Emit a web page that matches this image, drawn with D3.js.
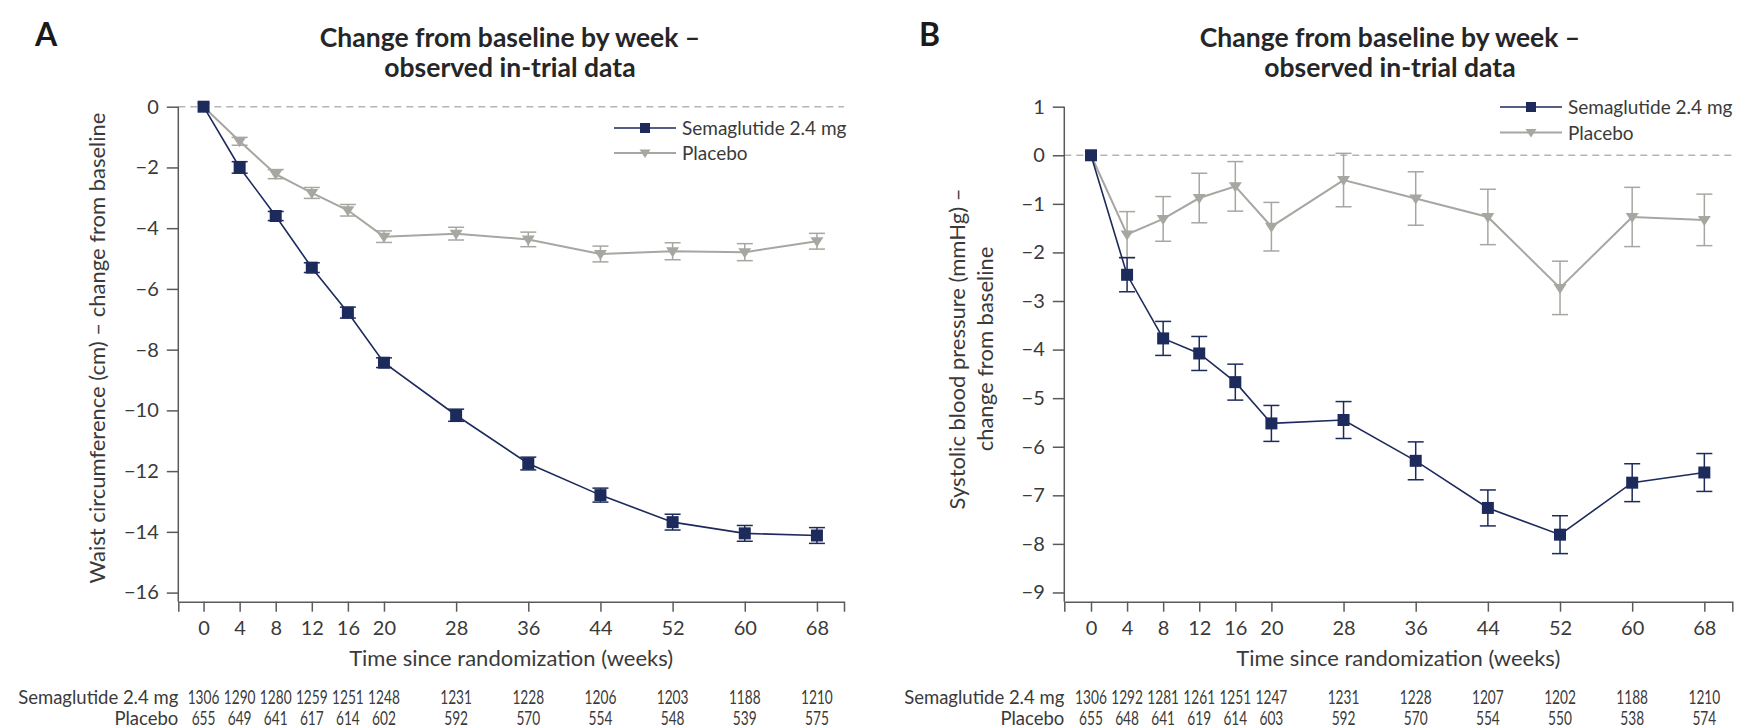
<!DOCTYPE html>
<html>
<head>
<meta charset="utf-8">
<script src="https://cdn.jsdelivr.net/npm/d3@7/dist/d3.min.js"></script>
<style>
  html, body { margin: 0; padding: 0; background: #fff; }
  svg { display: block; }
  text { font-family: Lato, "Open Sans", sans-serif; fill: #3a3a3a; }
</style>
</head>
<body>
<svg id="chart" width="1739" height="728"></svg>
<script>
// ---------------- DATA ----------------
const weeks = [0, 4, 8, 12, 16, 20, 28, 36, 44, 52, 60, 68];
const seriesNames = ["Semaglutide 2.4 mg", "Placebo"];

// Panel A – waist circumference (cm), change from baseline
const waistSema    = [0, -2.00, -3.60, -5.30, -6.78, -8.43, -10.16, -11.75, -12.79, -13.68, -14.05, -14.12];
const waistSemaErr = [0, 0.19, 0.15, 0.16, 0.18, 0.16, 0.20, 0.21, 0.23, 0.26, 0.26, 0.26];
const waistPbo     = [0, -1.14, -2.22, -2.84, -3.41, -4.28, -4.18, -4.37, -4.85, -4.76, -4.79, -4.43];
const waistPboErr  = [0, 0.13, 0.15, 0.18, 0.19, 0.19, 0.21, 0.24, 0.26, 0.28, 0.28, 0.26];
const waistTicks   = [0, -2, -4, -6, -8, -10, -12, -14, -16];
const waistNSema   = [1306, 1290, 1280, 1259, 1251, 1248, 1231, 1228, 1206, 1203, 1188, 1210];
const waistNPbo    = [655, 649, 641, 617, 614, 602, 592, 570, 554, 548, 539, 575];

// Panel B – systolic blood pressure (mmHg), change from baseline
const sbpSema    = [0, -2.46, -3.77, -4.08, -4.67, -5.52, -5.45, -6.29, -7.26, -7.81, -6.74, -6.53];
const sbpSemaErr = [0, 0.35, 0.35, 0.35, 0.37, 0.37, 0.38, 0.39, 0.37, 0.39, 0.39, 0.39];
const sbpPbo     = [0, -1.63, -1.31, -0.88, -0.64, -1.47, -0.51, -0.89, -1.27, -2.73, -1.27, -1.33];
const sbpPboErr  = [0, 0.47, 0.46, 0.51, 0.51, 0.50, 0.55, 0.55, 0.57, 0.55, 0.61, 0.53];
const sbpTicks   = [1, 0, -1, -2, -3, -4, -5, -6, -7, -8, -9];
const sbpNSema   = [1306, 1292, 1281, 1261, 1251, 1247, 1231, 1228, 1207, 1202, 1188, 1210];
const sbpNPbo    = [655, 648, 641, 619, 614, 603, 592, 570, 554, 550, 538, 574];

// ---------------- STYLE ----------------
const NAVY = "#1d2a5c";
const GREY = "#a7a6a1";
const AXIS = "#5a5a5a";
const svg = d3.select("#chart");

function minusFmt(v) { return v < 0 ? "\u2212" + Math.abs(v) : String(v); }

function panel(cfg) {
  const g = svg.append("g");
  const x = d3.scaleLinear().domain(cfg.xDomain).range(cfg.xRange);
  const y = d3.scaleLinear().domain(cfg.yDomain).range([601.7, 106.7]);

  // panel letter
  g.append("text").attr("x", cfg.letterX).attr("y", 46)
    .style("font-size", "32px").style("font-weight", 700).style("fill", "#1a1a1a")
    .text(cfg.letter);

  // title
  const t = g.append("text").attr("text-anchor", "middle")
    .style("font-size", "26.5px").style("font-weight", 700).style("fill", "#262626");
  t.append("tspan").attr("x", cfg.titleX).attr("y", 47).text("Change from baseline by week \u2013");
  t.append("tspan").attr("x", cfg.titleX).attr("y", 77).text("observed in-trial data");

  // zero reference line
  g.append("line")
    .attr("x1", cfg.xRange[0]).attr("x2", cfg.xRange[1])
    .attr("y1", y(0)).attr("y2", y(0))
    .attr("stroke", "#b5b5b5").attr("stroke-width", 1.4).attr("stroke-dasharray", "7,5");

  // y axis
  const yAxis = d3.axisLeft(y).tickValues(cfg.yTicks).tickFormat(minusFmt).tickSizeOuter(0).tickSize(11.5).tickPadding(8);
  const ya = g.append("g").attr("transform", `translate(${cfg.xRange[0]},0)`).call(yAxis);
  ya.select(".domain").attr("d", `M0,${y(cfg.yTicks[0])}V601.7`);
  ya.selectAll("line").attr("stroke", AXIS).attr("stroke-width", 1.5);
  ya.select(".domain").attr("stroke", AXIS).attr("stroke-width", 1.5);
  ya.selectAll("text").style("font-size", "20px").style("fill", "#3a3a3a").style("font-family", "Lato");

  // x axis
  const xAxis = d3.axisBottom(x).tickValues(weeks).tickFormat(d3.format("d")).tickSizeOuter(0).tickSize(10).tickPadding(9);
  const xa = g.append("g").attr("transform", "translate(0,601.7)").call(xAxis);
  xa.selectAll("line").attr("stroke", AXIS).attr("stroke-width", 1.5);
  xa.select(".domain").attr("stroke", AXIS).attr("stroke-width", 1.5);
  xa.selectAll("text").style("font-size", "20px").style("fill", "#3a3a3a").style("font-family", "Lato");

  const cx = (cfg.xRange[0] + cfg.xRange[1]) / 2;
  g.append("text").attr("x", cx).attr("y", 666).attr("text-anchor", "middle")
    .style("font-size", "22px").text("Time since randomization (weeks)");

  // y axis label
  const yl = g.append("text").attr("text-anchor", "middle")
    .attr("transform", `translate(0,${cfg.yLabelY}) rotate(-90)`)
    .style("font-size", "22px");
  cfg.yLabel.forEach((line, i) => {
    yl.append("tspan").attr("x", 0).attr("y", cfg.yLabelX[i]).text(line);
  });

  // series
  const series = [
    { name: seriesNames[1], vals: cfg.pbo, err: cfg.pboErr, color: GREY, lw: 2, marker: "tri" },
    { name: seriesNames[0], vals: cfg.sema, err: cfg.semaErr, color: NAVY, lw: 1.6, marker: "sq" }
  ];
  const line = d3.line().x(d => x(d.w)).y(d => y(d.v));
  series.forEach(s => {
    const pts = weeks.map((w, i) => ({ w, v: s.vals[i], e: s.err[i] }));
    const sg = g.append("g");
    sg.append("path").datum(pts).attr("d", line)
      .attr("fill", "none").attr("stroke", s.color).attr("stroke-width", s.lw);
    const eb = sg.selectAll("g.eb").data(pts.filter(d => d.e > 0)).join("g");
    eb.append("line").attr("x1", d => x(d.w)).attr("x2", d => x(d.w))
      .attr("y1", d => y(d.v - d.e)).attr("y2", d => y(d.v + d.e))
      .attr("stroke", s.color).attr("stroke-width", 1.5);
    [1, -1].forEach(sgn => {
      eb.append("line").attr("x1", d => x(d.w) - 8).attr("x2", d => x(d.w) + 8)
        .attr("y1", d => y(d.v + sgn * d.e)).attr("y2", d => y(d.v + sgn * d.e))
        .attr("stroke", s.color).attr("stroke-width", 1.5);
    });
    const mk = sg.selectAll("path.mk").data(pts).join("path")
      .attr("transform", d => `translate(${x(d.w)},${y(d.v)})`)
      .attr("fill", s.color);
    if (s.marker === "sq") mk.attr("d", "M-6,-6H6V6H-6Z");
    else mk.attr("d", "M-6.5,-4L6.5,-4L0,6Z");
  });

  // legend
  const lg = g.append("g");
  const leg = [
    { name: seriesNames[0], color: NAVY, lw: 1.6, marker: "sq" },
    { name: seriesNames[1], color: GREY, lw: 2, marker: "tri" }
  ];
  leg.forEach((L, i) => {
    const ly = cfg.legY[i];
    lg.append("line").attr("x1", cfg.legX).attr("x2", cfg.legX + 62).attr("y1", ly).attr("y2", ly)
      .attr("stroke", L.color).attr("stroke-width", L.lw);
    lg.append("path").attr("transform", `translate(${cfg.legX + 31},${ly})`)
      .attr("d", L.marker === "sq" ? "M-5,-5H5V5H-5Z" : "M-5.5,-3.5L5.5,-3.5L0,5Z")
      .attr("fill", L.color);
    lg.append("text").attr("x", cfg.legX + 68).attr("y", ly + 7)
      .style("font-size", "19px").text(L.name);
  });

  // number at risk table
  const rows = [
    { label: seriesNames[0], n: cfg.nSema, y: 703.5 },
    { label: seriesNames[1], n: cfg.nPbo, y: 724.5 }
  ];
  rows.forEach(r => {
    g.append("text").attr("x", cfg.xRange[0]).attr("y", r.y).attr("text-anchor", "end")
      .style("font-size", "18.5px").text(r.label);
    g.selectAll(null).data(weeks.map((w, i) => ({ w, n: r.n[i] }))).join("text")
      .attr("transform", d => `translate(${x(d.w)},${r.y}) scale(0.74,1)`)
      .attr("text-anchor", "middle")
      .style("font-size", "18.5px").text(d => d.n);
  });
}

panel({
  letter: "A", letterX: 35, titleX: 510,
  xDomain: [-2.8, 71], xRange: [178.3, 844],
  yDomain: [-16.3, 0], yTicks: waistTicks,
  sema: waistSema, semaErr: waistSemaErr, pbo: waistPbo, pboErr: waistPboErr,
  nSema: waistNSema, nPbo: waistNPbo,
  yLabel: ["Waist circumference (cm) \u2013 change from baseline"], yLabelX: [105], yLabelY: 348,
  legX: 614, legY: [128, 153]
});

panel({
  letter: "B", letterX: 919, titleX: 1390,
  xDomain: [-2.96, 71.1], xRange: [1064.3, 1732.3],
  yDomain: [-9.19, 1], yTicks: sbpTicks,
  sema: sbpSema, semaErr: sbpSemaErr, pbo: sbpPbo, pboErr: sbpPboErr,
  nSema: sbpNSema, nPbo: sbpNPbo,
  yLabel: ["Systolic blood pressure (mmHg) \u2013", "change from baseline"], yLabelX: [965, 993], yLabelY: 349,
  legX: 1500, legY: [107, 132.6]
});
</script>
</body>
</html>
